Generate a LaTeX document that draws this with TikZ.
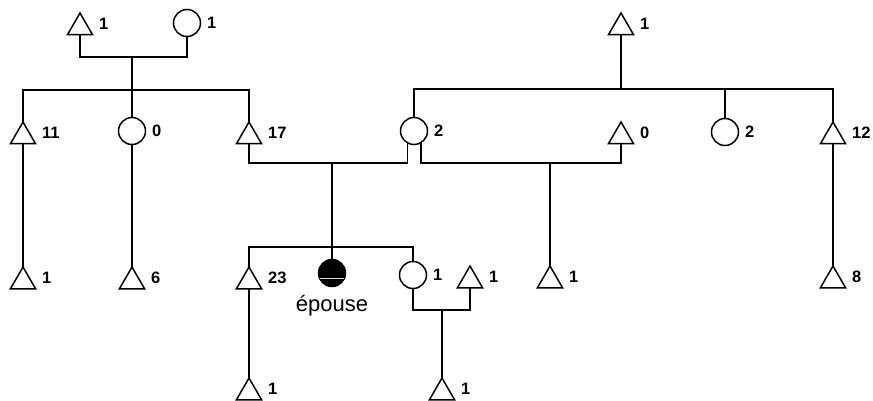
\documentclass[tikz,border=0pt]{standalone}
\usepackage{fontspec}
\setmainfont{Liberation Sans}
\usetikzlibrary{shapes.geometric,calc}
\tikzset{
  tri/.style={regular polygon, regular polygon sides=3, minimum size=29pt, inner sep=0pt, outer sep=0pt, draw, line width=1.5pt},
  circ/.style={circle, minimum size=27pt, inner sep=0pt, outer sep=0pt, draw, line width=1.5pt},
  ego/.style={circ, fill=black},
  lab/.style={anchor=west, inner sep=0pt, font=\fontsize{16.5}{16.5}\selectfont\bfseries},
  word/.style={inner sep=0pt, font=\fontsize{22}{22}\selectfont},
  link/.style={line width=1.5pt}
}
\newcommand\tri[4]{\node[tri] (#1) at (#2,#3+14.5) {}; \node[lab] (#1l) at (#2+19,#3+11) {#4};}
\newcommand\cir[4]{\node[circ] (#1) at (#2,#3) {}; \node[lab] (#1l) at (#2+20,#3) {#4};}
\begin{document}
\begin{tikzpicture}[x=1pt,y=-1pt]
\useasboundingbox (0,0) rectangle (873,401);
% generation 1
\tri{gA}{80}{13}{1}
\cir{gB}{187}{23}{1}
\tri{gC}{621}{13}{1}
% generation 2
\tri{t11}{23}{122}{11}
\cir{c0}{132}{131}{0}
\tri{t17}{249}{122}{17}
\cir{c2a}{414}{131}{2}
\tri{t0}{621}{122}{0}
\cir{c2b}{725}{132}{2}
\tri{t12}{833}{122}{12}
% generation 3
\tri{t1a}{23}{267}{1}
\tri{t6}{132}{267}{6}
\tri{t23}{249}{267}{23}
\node[ego] (ego) at (332,273) {};
\cir{c1}{413}{275}{1}
\tri{t1b}{470}{266}{1}
\tri{t1c}{550}{266}{1}
\tri{t8}{833}{266}{8}
% generation 4
\tri{t1d}{249}{378}{1}
\tri{t1e}{442}{378}{1}
\node[word] (epouse) at (332,306) {épouse};
% pale stripe across ego
\draw[gray!25, line width=1pt] ($(ego.center)+(-12,5)$) -- ($(ego.center)+(12,5)$);
% coordinates
\coordinate (m1) at (132,57);
\coordinate (s1) at (132,90);
\coordinate (s2) at (621,89);
\coordinate (m2) at (332,163);
\coordinate (m3) at (550,163);
\coordinate (s3) at (332,247);
\coordinate (m4) at (442,310);
% connectors
\draw[link] (gA.south) |- (m1) -| (gB.south);
\draw[link] (m1) -- (s1);
\draw[link] (t11.north) |- (s1) -| (t17.north);
\draw[link] (s1) -- (c0.north);
\draw[link] (gC.south) -- (s2);
\draw[link] (c2a.north) |- (s2) -| (t12.north);
\draw[link] (c2b.north) -- (c2b.north |- s2);
\draw[link] (t17.south) |- (m2) -| (c2a.-120);
\draw[link] (c2a.-60) |- (m3) -| (t0.south);
\draw[link] (m2) -- (s3);
\draw[link] (t23.north) |- (s3) -| (c1.north);
\draw[link] (s3) -- (ego.north);
\draw[link] (m3) -- (t1c.north);
\draw[link] (t11.south) -- (t1a.north);
\draw[link] (c0.south) -- (t6.north);
\draw[link] (t12.south) -- (t8.north);
\draw[link] (t23.south) -- (t1d.north);
\draw[link] (c1.south) |- (m4) -| (t1b.south);
\draw[link] (m4) -- (t1e.north);
\end{tikzpicture}
\end{document}
